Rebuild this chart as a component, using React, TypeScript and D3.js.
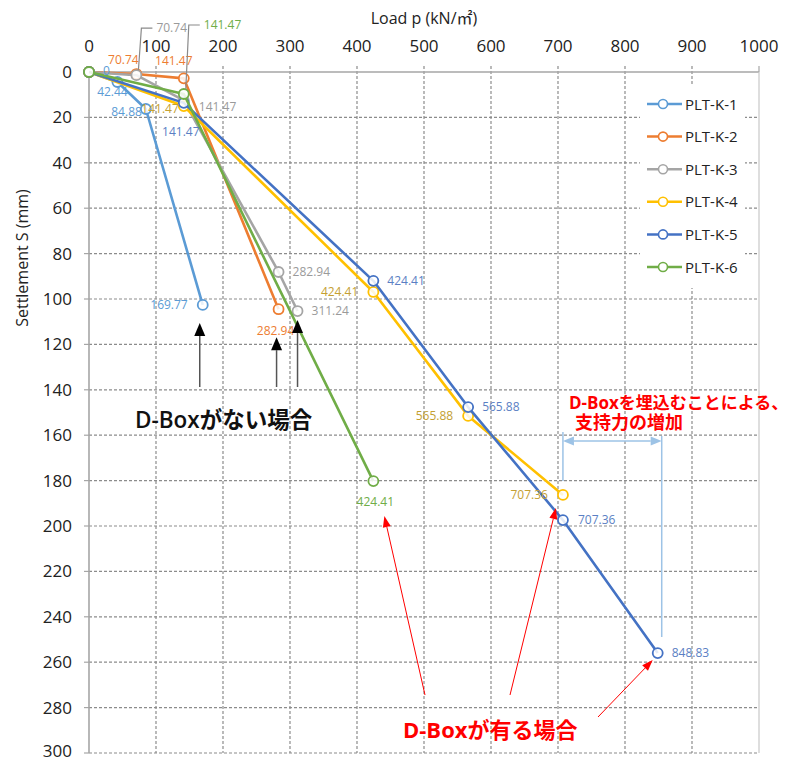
import React from "react";
import * as d3 from "d3";

// Plate load test results: load p (kN/m²) vs settlement S (mm)
const SERIES_NAMES = ["PLT-K-1", "PLT-K-2", "PLT-K-3", "PLT-K-4", "PLT-K-5", "PLT-K-6"];
const SERIES_COLORS = ["#5B9BD5", "#ED7D31", "#A5A5A5", "#FFC000", "#4472C4", "#70AD47"];
const LABEL_COLORS = ["#5B9BD5", "#ED7D31", "#9A9A9A", "#C4A032", "#5B7FC4", "#70AD47"];

const LOAD_K1 = [0, 42.44, 84.88, 169.77];
const SETTLE_K1 = [0, 4.4, 16.3, 102.6];
const LOAD_K2 = [0, 70.74, 141.47, 282.94];
const SETTLE_K2 = [0, 0.9, 2.8, 104.5];
const LOAD_K3 = [0, 70.74, 141.47, 282.94, 311.24];
const SETTLE_K3 = [0, 1.4, 12.5, 88.1, 105.3];
const LOAD_K4 = [0, 141.47, 424.41, 565.88, 707.36];
const SETTLE_K4 = [0, 15, 96.9, 151.5, 186.3];
const LOAD_K5 = [0, 141.47, 424.41, 565.88, 707.36, 848.83];
const SETTLE_K5 = [0, 13.6, 92, 147.6, 197.4, 256];
const LOAD_K6 = [0, 141.47, 424.41];
const SETTLE_K6 = [0, 9.7, 180.2];

const LOADS = [LOAD_K1, LOAD_K2, LOAD_K3, LOAD_K4, LOAD_K5, LOAD_K6];
const SETTLES = [SETTLE_K1, SETTLE_K2, SETTLE_K3, SETTLE_K4, SETTLE_K5, SETTLE_K6];

const X_TICKS = [0, 100, 200, 300, 400, 500, 600, 700, 800, 900, 1000];
const Y_TICKS = [0, 20, 40, 60, 80, 100, 120, 140, 160, 180, 200, 220, 240, 260, 280, 300];

type Place = { dx: number; dy: number; anchor: "start" | "middle" | "end"; leader?: boolean } | null;

// data label placement relative to each marker (px)
const LABEL_PLACE: Place[][] = [
  [
    { dx: 14, dy: -1, anchor: "start" },
    { dx: -5, dy: 10, anchor: "middle" },
    { dx: -4, dy: 3, anchor: "end" },
    { dx: -15, dy: 0, anchor: "end" },
  ],
  [null, { dx: -13, dy: -14, anchor: "middle" }, { dx: -10, dy: -18, anchor: "middle" }, { dx: -3, dy: 21, anchor: "middle" }],
  [
    null,
    { dx: 20, dy: -47, anchor: "start", leader: true },
    { dx: 15, dy: 6, anchor: "start" },
    { dx: 14, dy: 0, anchor: "start" },
    { dx: 14, dy: 0, anchor: "start" },
  ],
  [null, { dx: -5, dy: 3, anchor: "end" }, { dx: -15, dy: 0, anchor: "end" }, { dx: -15, dy: 0, anchor: "end" }, { dx: -15, dy: 0, anchor: "end" }],
  [
    null,
    { dx: -3, dy: 29, anchor: "middle" },
    { dx: 14, dy: 0, anchor: "start" },
    { dx: 14, dy: 0, anchor: "start" },
    { dx: 15, dy: 0, anchor: "start" },
    { dx: 14, dy: 0, anchor: "start" },
  ],
  [null, { dx: 20, dy: -69, anchor: "start", leader: true }, { dx: 2, dy: 21, anchor: "middle" }],
];

const xs = d3.scaleLinear().domain([0, 1000]).range([89, 759]);
const ys = d3.scaleLinear().domain([0, 300]).range([72, 753]);

const LATIN = "'Open Sans', 'Noto Sans CJK JP', sans-serif";
const CJK = "'Open Sans', 'Noto Sans CJK JP', sans-serif";

function arrow(x1: number, y1: number, x2: number, y2: number, len: number, w: number) {
  const a = Math.atan2(y2 - y1, x2 - x1);
  const bx = x2 - len * Math.cos(a);
  const by = y2 - len * Math.sin(a);
  const px = -Math.sin(a) * (w / 2);
  const py = Math.cos(a) * (w / 2);
  return {
    line: [x1, y1, bx, by],
    head: `${x2},${y2} ${bx + px},${by + py} ${bx - px},${by - py}`,
  };
}

export default function App() {
  const pathFor = (si: number) =>
    d3
      .line<number>()
      .x((d) => xs(d))
      .y((_, i) => ys(SETTLES[si][i]))(LOADS[si]) || "";

  const gridColor = "#8C8C8C";
  const axisColor = "#A6A6A6";

  // black arrows for the cases without D-Box (K-1, K-2, K-3 final points)
  const noBox = [
    { s: 0, p: 3, dx: -3, gap: 18 },
    { s: 1, p: 3, dx: -2, gap: 28 },
    { s: 2, p: 4, dx: 0, gap: 9 },
  ];

  // red arrows for the cases with D-Box
  const withBox = [
    { s: 5, p: 2, fx: 425, fy: 695, dx: 11, dy: 35 },
    { s: 4, p: 4, fx: 510, fy: 695, dx: -7, dy: -12 },
    { s: 4, p: 5, fx: 598, fy: 717, dx: -5, dy: 7 },
  ];

  const dimL = xs(LOAD_K4[4]);
  const dimR = xs(LOAD_K5[5]) + 4;
  const dimY = 441;
  const la = arrow(dimL + 20, dimY, dimL, dimY, 11, 9);
  const ra = arrow(dimR - 20, dimY, dimR, dimY, 11, 9);

  return (
    <svg
      width={792}
      height={760}
      style={{ position: "absolute", left: 0, top: 0, background: "#fff", display: "block" }}
      fontFamily={LATIN}
    >
      <rect x={0} y={0} width={792} height={760} fill="#fff" />

      {/* grid */}
      {X_TICKS.filter((t) => t > 0 && t < 1000).map((t) => (
        <line key={"gx" + t} x1={xs(t)} x2={xs(t)} y1={ys(0) - 6} y2={ys(300)} stroke={gridColor} strokeWidth={1.2} strokeDasharray="3,2" />
      ))}
      {Y_TICKS.filter((t) => t > 0).map((t) => (
        <line key={"gy" + t} x1={xs(0)} x2={xs(1000)} y1={ys(t)} y2={ys(t)} stroke={gridColor} strokeWidth={1.2} strokeDasharray="3,2" />
      ))}
      {/* y tick marks */}
      {Y_TICKS.map((t) => (
        <line key={"ty" + t} x1={xs(0) - 5} x2={xs(0)} y1={ys(t)} y2={ys(t)} stroke={axisColor} strokeWidth={1.2} />
      ))}
      {/* frame */}
      <line x1={xs(0)} x2={xs(1000)} y1={ys(0)} y2={ys(0)} stroke={axisColor} strokeWidth={1.6} />
      <line x1={xs(0)} x2={xs(0)} y1={ys(0)} y2={ys(300)} stroke={axisColor} strokeWidth={1.6} />
      <line x1={xs(1000)} x2={xs(1000)} y1={ys(0)} y2={ys(300)} stroke="#C8C8C8" strokeWidth={1.2} />
      <line x1={xs(0)} x2={xs(0)} y1={ys(0) - 6} y2={ys(0)} stroke={axisColor} strokeWidth={1.2} />
      <line x1={xs(1000)} x2={xs(1000)} y1={ys(0) - 6} y2={ys(0)} stroke={axisColor} strokeWidth={1.2} />

      {/* tick labels */}
      {X_TICKS.map((t) => (
        <text key={"lx" + t} x={xs(t)} y={52} textAnchor="middle" fontSize={17} fill="#222">
          {t}
        </text>
      ))}
      {Y_TICKS.map((t) => (
        <text key={"ly" + t} x={72} y={Math.min(ys(t) + 6, 757)} textAnchor="end" fontSize={17} fill="#222">
          {t}
        </text>
      ))}

      {/* axis titles */}
      <text x={424} y={24} textAnchor="middle" fontSize={16} fill="#222">
        Load p (kN/㎡)
      </text>
      <text transform="translate(28,258) rotate(-90)" textAnchor="middle" fontSize={16} fill="#222">
        Settlement S (mm)
      </text>

      {/* legend */}
      <rect x={640} y={85} width={105} height={203} fill="#fff" />
      {SERIES_NAMES.map((n, i) => {
        const y = 104 + i * 32.6;
        return (
          <g key={"lg" + n}>
            <line x1={647} x2={682} y1={y} y2={y} stroke={SERIES_COLORS[i]} strokeWidth={2.5} />
            <circle cx={663} cy={y} r={4.5} fill="#fff" stroke={SERIES_COLORS[i]} strokeWidth={1.6} />
            <text x={685} y={y + 5.5} fontSize={15} fill="#222">
              {n}
            </text>
          </g>
        );
      })}

      {/* series */}
      {LOADS.map((ld, si) => (
        <g key={"s" + si}>
          <path d={pathFor(si)} fill="none" stroke={SERIES_COLORS[si]} strokeWidth={2.6} strokeLinejoin="round" />
          {ld.map((v, pi) => (
            <circle key={pi} cx={xs(v)} cy={ys(SETTLES[si][pi])} r={5} fill="#fff" fillOpacity={0.85} stroke={SERIES_COLORS[si]} strokeWidth={1.8} />
          ))}
        </g>
      ))}

      {/* data labels */}
      {LOADS.map((ld, si) =>
        ld.map((v, pi) => {
          const pl = LABEL_PLACE[si][pi];
          if (!pl) return null;
          const mx = xs(v);
          const my = ys(SETTLES[si][pi]);
          const tx = mx + pl.dx;
          const ty = my + pl.dy;
          return (
            <g key={`lb${si}-${pi}`}>
              {pl.leader && (
                <polyline
                  points={`${tx - 4},${ty} ${mx + 5},${ty} ${mx + 2},${my - 5}`}
                  fill="none"
                  stroke="#8A8A8A"
                  strokeWidth={1.2}
                />
              )}
              <text x={tx} y={ty + 4.3} textAnchor={pl.anchor} fontSize={12} fill={LABEL_COLORS[si]}>
                {String(v)}
              </text>
            </g>
          );
        })
      )}

      {/* annotations: without D-Box */}
      {noBox.map((a, i) => {
        const x = xs(LOADS[a.s][a.p]) + a.dx;
        const tip = ys(SETTLES[a.s][a.p]) + a.gap;
        const ar = arrow(x, 387, x, tip, 13, 11);
        return (
          <g key={"nb" + i}>
            <line x1={ar.line[0]} y1={ar.line[1]} x2={ar.line[2]} y2={ar.line[3]} stroke="#555" strokeWidth={1.5} />
            <polygon points={ar.head} fill="#000" />
          </g>
        );
      })}
      <text x={135} y={428} fontSize={22.5} fontWeight={600} fill="#111" fontFamily={CJK}>
        D-Boxがない場合
      </text>

      {/* annotations: with D-Box */}
      {withBox.map((a, i) => {
        const tx = xs(LOADS[a.s][a.p]) + a.dx;
        const ty = ys(SETTLES[a.s][a.p]) + a.dy;
        const ar = arrow(a.fx, a.fy, tx, ty, 11, 8);
        return (
          <g key={"wb" + i}>
            <line x1={ar.line[0]} y1={ar.line[1]} x2={ar.line[2]} y2={ar.line[3]} stroke="#FF0000" strokeWidth={1} />
            <polygon points={ar.head} fill="#FF0000" />
          </g>
        );
      })}
      <text x={403} y={738} fontSize={22} fontWeight="bold" fill="#FF0000" fontFamily={CJK}>
        D-Boxが有る場合
      </text>

      {/* bearing capacity increase dimension */}
      <line x1={dimL} x2={dimL} y1={432} y2={481} stroke="#9DC3E6" strokeWidth={1.5} />
      <line x1={dimR} x2={dimR} y1={436} y2={637} stroke="#9DC3E6" strokeWidth={1.5} />
      <line x1={la.line[2]} y1={dimY} x2={ra.line[2]} y2={dimY} stroke="#9DC3E6" strokeWidth={1.5} />
      <polygon points={la.head} fill="#9DC3E6" />
      <polygon points={ra.head} fill="#9DC3E6" />
      <text x={569} y={409} fontSize={17} fontWeight="bold" fill="#FF0000" fontFamily={CJK}>
        D-Boxを埋込むことによる、
      </text>
      <text x={575} y={429} fontSize={18} fontWeight="bold" fill="#FF0000" fontFamily={CJK}>
        支持力の増加
      </text>
    </svg>
  );
}
